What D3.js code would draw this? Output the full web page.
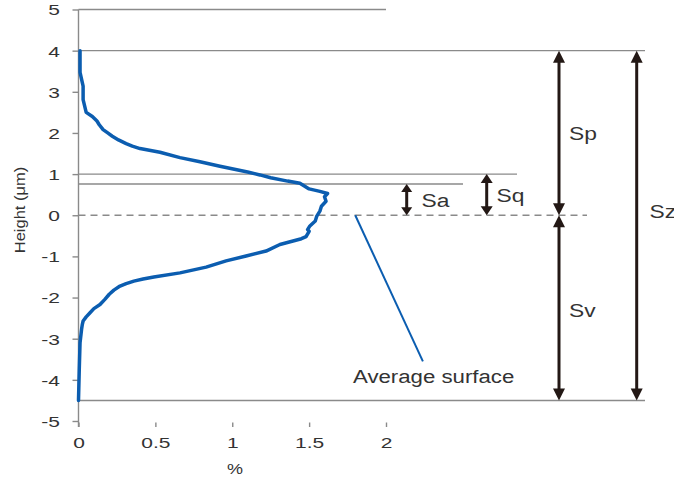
<!DOCTYPE html>
<html>
<head>
<meta charset="utf-8">
<script src="https://cdn.jsdelivr.net/npm/d3@7"></script>
<style>
  html, body { margin: 0; padding: 0; background: #fff; }
  svg { display: block; font-family: "Liberation Sans", Arial, sans-serif; }
</style>
</head>
<body>
<svg id="chart" width="674" height="477"></svg>
<script>
// ---- data ----
const heights = [4.00, 3.47, 3.14, 2.81, 2.50, 2.40, 2.29, 2.20, 2.08, 2.00, 1.92, 1.83, 1.74, 1.68, 1.62, 1.53, 1.40, 1.30, 1.19, 1.05, 0.98, 0.91, 0.83, 0.78, 0.64, 0.58, 0.53, 0.45, 0.34, 0.22, 0.10, -0.02, -0.14, -0.26, -0.35, -0.39, -0.52, -0.57, -0.71, -0.87, -0.99, -1.11, -1.26, -1.40, -1.50, -1.55, -1.60, -1.66, -1.72, -1.82, -1.92, -2.05, -2.17, -2.27, -2.37, -2.47, -2.57, -2.65, -2.77, -3.10, -3.75, -4.50];
const percents = [0.01, 0.01, 0.03, 0.03, 0.05, 0.09, 0.12, 0.135, 0.16, 0.19, 0.22, 0.26, 0.31, 0.35, 0.40, 0.53, 0.66, 0.79, 0.92, 1.10, 1.18, 1.25, 1.36, 1.44, 1.50, 1.57, 1.62, 1.60, 1.61, 1.58, 1.57, 1.55, 1.54, 1.505, 1.49, 1.50, 1.48, 1.45, 1.31, 1.22, 1.09, 0.96, 0.83, 0.66, 0.49, 0.42, 0.36, 0.31, 0.27, 0.23, 0.20, 0.17, 0.14, 0.10, 0.075, 0.05, 0.03, 0.025, 0.02, 0.01, 0.005, 0.00];
const xTicks = [0, 0.5, 1, 1.5, 2];
const yTicks = [-5, -4, -3, -2, -1, 0, 1, 2, 3, 4, 5];
const Sp = 4.0, Sv = -4.5, Sq = 1.0, Sa = 0.76;
const labelAvg = "Average surface";
const xLabel = "%";
const yLabel = "Height (μm)";
const avgLeader = [[1.80, 0], [2.24, -3.55]];

// ---- scales ----
const svg = d3.select("#chart");
const x = d3.scaleLinear().domain([0, 2]).range([78.5, 386]);
const y = d3.scaleLinear().domain([-5, 5]).range([421, 9.5]);

const grid = "#8a8a8a";
const ink = "#231815";
const blue = "#0b5db0";
const txt = "#333";

// helper for stretched text
function stext(g, str, px, py, size, sx, anchor, extra) {
  return g.append("text")
    .attr("transform", `translate(${px},${py}) scale(${sx},1)${extra || ""}`)
    .attr("text-anchor", anchor)
    .attr("font-size", size)
    .attr("fill", txt)
    .text(str);
}

// ---- reference lines ----
const hline = (val, x1, x2, dash) => svg.append("line")
  .attr("x1", x1).attr("x2", x2).attr("y1", y(val)).attr("y2", y(val))
  .attr("stroke", grid).attr("stroke-width", 1.4)
  .attr("stroke-dasharray", dash || null);

hline(5, x(0), x(2));
hline(Sp, x(0), 645);
hline(Sq, x(0), 517);
hline(Sa, x(0), 463);
hline(0, x(0), 587, "7,5");
hline(Sv, x(0), 645);

// ---- axes ----
const yAxis = svg.append("g")
  .attr("transform", `translate(${x(0)},0)`)
  .call(d3.axisLeft(y).tickValues(yTicks).tickSize(6));
yAxis.select(".domain").remove();
yAxis.selectAll(".tick line").attr("stroke", grid).attr("stroke-width", 1.4);
yAxis.selectAll(".tick text").remove();
yAxis.selectAll(".tick").each(function(d) {
  stext(d3.select(this), String(d), -18.5, 0, 15, 1.4, "end")
    .attr("dy", "0.36em");
});
svg.append("line")
  .attr("x1", x(0)).attr("x2", x(0)).attr("y1", y(5)).attr("y2", 427)
  .attr("stroke", grid).attr("stroke-width", 1.4);

const xAxis = svg.append("g")
  .attr("transform", `translate(0,422.5)`)
  .call(d3.axisBottom(x).tickValues(xTicks).tickSize(4.5));
xAxis.select(".domain").remove();
xAxis.selectAll(".tick line").attr("stroke", grid).attr("stroke-width", 1.4);
xAxis.selectAll(".tick text").remove();
xAxis.selectAll(".tick").each(function(d) {
  stext(d3.select(this), String(d), 0, 25.5, 15, 1.4, "middle");
});

// axis titles
stext(svg, xLabel, 235, 474, 15, 1.2, "middle");
svg.append("text")
  .attr("transform", `translate(25,210) rotate(-90) scale(1.1,1)`)
  .attr("text-anchor", "middle")
  .attr("font-size", 15)
  .attr("fill", txt)
  .text(yLabel);

// ---- curve ----
const pts = heights.map((h, i) => [percents[i], h]);
svg.append("path")
  .datum(pts)
  .attr("fill", "none")
  .attr("stroke", blue)
  .attr("stroke-width", 3.5)
  .attr("stroke-linejoin", "round")
  .attr("stroke-linecap", "round")
  .attr("d", d3.line().x(d => x(d[0])).y(d => y(d[1])));

// leader line
svg.append("line")
  .attr("x1", x(avgLeader[0][0])).attr("y1", y(avgLeader[0][1]))
  .attr("x2", x(avgLeader[1][0])).attr("y2", y(avgLeader[1][1]))
  .attr("stroke", blue).attr("stroke-width", 2);
stext(svg, labelAvg, 353, 383, 19, 1.17, "start");

// ---- double arrows ----
function dblArrow(px, v1, v2, headL, headW) {
  const yTop = y(Math.max(v1, v2)), yBot = y(Math.min(v1, v2));
  svg.append("line")
    .attr("x1", px).attr("x2", px)
    .attr("y1", yTop + headL - 1).attr("y2", yBot - headL + 1)
    .attr("stroke", ink).attr("stroke-width", 3);
  svg.append("path")
    .attr("d", `M${px},${yTop} L${px - headW / 2},${yTop + headL} L${px + headW / 2},${yTop + headL} Z`)
    .attr("fill", ink);
  svg.append("path")
    .attr("d", `M${px},${yBot} L${px - headW / 2},${yBot - headL} L${px + headW / 2},${yBot - headL} Z`)
    .attr("fill", ink);
}
dblArrow(406.7, Sa, 0, 8, 11);
dblArrow(486.7, Sq, 0, 9, 12);
dblArrow(559, Sp, 0, 12, 12);
dblArrow(559, 0, Sv, 12, 12);
dblArrow(636.7, Sp, Sv, 12, 12);

// arrow labels
stext(svg, "Sa", 421.5, 207, 19, 1.2, "start");
stext(svg, "Sq", 496.5, 202, 19, 1.2, "start");
stext(svg, "Sp", 569, 139.5, 19, 1.2, "start");
stext(svg, "Sv", 569, 317, 19, 1.2, "start");
stext(svg, "Sz", 649.5, 218, 19, 1.2, "start");
</script>
</body>
</html>
